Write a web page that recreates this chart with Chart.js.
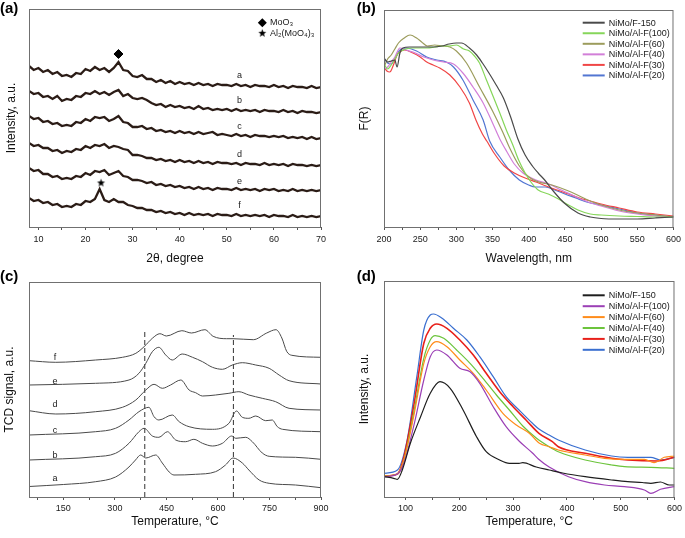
<!DOCTYPE html>
<html>
<head>
<meta charset="utf-8">
<script src="https://cdn.jsdelivr.net/npm/chart.js@4.4.0/dist/chart.umd.min.js"></script>
<style>
  html, body { margin: 0; padding: 0; background: #fff; }
  #wrap { position: relative; width: 685px; height: 538px; }
  canvas { position: absolute; }
</style>
</head>
<body>
<div id="wrap">
  <canvas id="chartA" width="340" height="268" style="left:0;top:0"></canvas>
  <canvas id="chartB" width="345" height="268" style="left:340px;top:0"></canvas>
  <canvas id="chartC" width="340" height="270" style="left:0;top:268px"></canvas>
  <canvas id="chartD" width="345" height="270" style="left:340px;top:268px"></canvas>
</div>
<script>
// (a) XRD, 2θ en grados (unidades arbitrarias)
const xrdAngle = [8,9,10,11,12,13,14,15,16,17,18,19,20,21,22,23,24,25,26,27,28,29,30,31,32,33,34,35,36,37,38,39,40,41,42,43,44,45,46,47,48,49,50,51,52,53,54,55,56,57,58,59,60,61,62,63,64,65,66,67,68,69,70];
const xrdA = [161,157,159,155,157,153,155,151,152,150, 154,153,158,156,160,157,159,155,159,165, 157,156,151,150,152,148,148,145,147,144, 146,143,145,143,144,142,144,142,143,141, 143,142,142,141,143,141,142,140,142,141, 141,140,142,140,141,139,141,140,140,139, 141,139,140];
const xrdB = [136,133,134,130,131,128,131,126,128,127, 131,130,134,133,136,133,135,132,135,137, 131,133,129,128,129,127,124,122,123,120, 122,120,121,119,120,118,121,118,119,117, 118,117,118,116,118,116,117,116,117,115, 117,116,116,115,117,115,116,114,116,115, 115,114,115];
const xrdC = [111,108,109,105,106,103,104,101,102,101, 105,104,108,106,110,109,110,106,108,111, 105,104,100,100,101,98,99,96,97,95, 96,94,96,94,95,93,95,93,94,95, 92,93,92,91,93,91,92,90,92,91, 91,90,91,90,91,89,90,89,90,88, 90,88,89];
const xrdD = [84,81,82,79,79,76,77,74,76,75, 78,77,81,79,82,81,83,79,81,80, 78,77,72,72,71,69,69,67,68,66, 67,65,67,65,66,64,66,64,65,63, 65,64,64,63,64,62,64,63,63,62, 64,62,63,62,63,61,63,62,62,61, 62,61,62];
const xrdE = [59,56,57,53,53,50,51,48,49,48, 51,50,54,52,56,55,57,52,54,56, 51,50,47,47,46,44,45,42,43,41, 42,40,41,39,40,38,40,38,39,37, 39,38,38,37,39,37,38,37,38,36, 38,37,38,36,37,36,38,36,37,36, 37,36,37];
const xrdF = [29,26,27,24,25,22,23,20,21,20, 23,22,26,25,28,38,27,25,28,25, 25,22,21,19,19,17,17,15,16,14, 15,13,14,12,14,12,13,12,13,11, 13,12,12,11,13,11,12,11,12,11, 12,10,12,11,11,10,12,10,11,10, 11,10,11];
const xrdLabels = ['a','b','c','d','e','f'];
const xrdLabelX = 52.7;
const xrdLabelY = [151.7,126.7,100,72.7,45.7,21];
const moo3X = [27], moo3Y = [173];
const almoX = [23.3], almoY = [44];
const aTicks = [10,15,20,25,30,35,40,45,50,55,60,65,70];

// (b) UV-vis DRS
const bNames = ['NiMo/F-150','NiMo/Al-F(100)','NiMo/Al-F(60)','NiMo/Al-F(40)','NiMo/Al-F(30)','NiMo/Al-F(20)'];
const bColors = ['#4a4a4a','#86d65a','#9c9c5c','#d27fd8','#f04646','#5276d2'];
const nmF150 = [200,205,210,215,218,222,226,235,245,255,268,280,290,300,307,318,328,336,345,355,365,375,385,395,405,413,422,435,449,468,485,500,525,550,575,600];
const frF150 = [169,165,166,167,160,174,179,180,180,180,180,181,183,184,184,179,172,164,154,142,129,110,88,72,61,54,47,35,24,14,10,8.5,8,8,9,10];
const nm100 = [200,205,210,215,220,230,240,250,260,270,280,290,300,310,318,325,332,341,350,360,369,378,386,395,404,413,427,441,455,468,485,500,525,550,575,600];
const fr100 = [163,158,162,168,174,178,179,179,179,180,181,181,182,178,176,171,164,148,132,114,97,82,67,54,44,37,33,28,22,17,13,12,11,10.5,10,10];
const nm60 = [200,205,210,215,220,228,236,245,252,260,270,280,291,300,314,332,350,364,373,387,400,414,432,455,470,485,500,525,550,575,600];
const fr60 = [160,168,172,178,184,189,192,189,185,181,182,181,180,176,164,140,116,95,80,61,50,45,42,36,31,26,22,17,14,12,10];
const nm40 = [200,205,210,215,222,230,240,255,268,282,296,309,323,337,350,360,370,380,392,410,428,445,460,475,490,500,525,550,575,600];
const fr40 = [158,160,165,170,179,177,175,170,167,165,163,154,140,124,104,88,75,63,54,47,43,37,32,27,23,21,16,13,11,10];
const nm30 = [200,204,208,213,218,222,228,240,250,259,268,277,291,305,318,327,336,342,352,366,380,395,410,424,439,455,470,485,500,525,550,575,600];
const fr30 = [160,156,155,162,172,175,177,174,170,165,162,159,152,140,124,107,93,86,74,61,54,49,45,41,37,33,29,26,23,19,15,13,11];
const nm20 = [200,205,210,215,222,231,245,259,273,286,296,309,323,337,346,360,373,387,400,409,423,436,450,465,480,500,525,550,575,600];
const fr20 = [169,164,163,168,177,179,176,170,167,165,160,147,127,107,86,70,57,47,42,40,40,37,33,29,25,22,18,14,12,10];
const bTicks = [200,225,250,275,300,325,350,375,400,425,450,475,500,525,550,575,600];

// (c) H2-TPR
const tA = [50,150,244,302,341,360,375,390,419,438,458,472,535,593,622,644,671,690,720,749,826,900];
const tcdA = [10.5,12.5,15.3,20,30,37,42,39,42,34,25,22,22.7,25.3,32,39,34,27,17,13.7,12,9.3];
const tB = [50,244,302,341,370,385,409,428,453,477,506,530,555,584,613,640,652,681,700,729,749,826,900];
const tcdB = [37,40.3,43.7,53.7,65.3,68.7,61,59.7,65.3,57,55.3,57.7,53.7,51,53.7,61,58.7,59.7,55.3,44,40.7,39.7,37.7];
const tC = [50,244,302,341,370,399,414,428,467,487,516,584,632,654,671,690,710,739,758,773,788,900];
const tcdC = [62,65.3,68.7,77,85.3,89.7,80.3,77,82,75.3,70.3,67.7,73.7,86,79.7,78.7,81,76.3,77,70.3,67.7,65.3];
const tD = [50,128,244,322,361,390,414,438,462,492,516,535,555,593,632,661,690,729,768,807,900];
const tcdD = [86.3,83,85.3,89.7,97,107,112.7,108.7,112,117,107,104.3,101,102,103.7,105.3,102,98.7,95.3,88.7,87];
const tE = [50,244,341,370,390,409,428,448,467,496,526,555,584,613,642,671,710,749,778,807,900];
const tcdE = [112,113.7,117,123.7,133.7,145.3,149.7,142,137,143,139.7,135.3,129.7,127.7,132,134.3,132,128.7,122,116.3,113];
const tF = [50,128,244,322,361,385,409,431,450,495,523,562,586,625,644,703,742,769,786,800,815,900];
const tcdF = [136.3,134.7,137,139.7,143.7,150.3,158.7,163.3,161,166.3,164,167.3,160.7,158.3,158.3,157.3,164,167.3,159,145.7,141.7,139.7];
const cLabels = ['a','b','c','d','e','f'];
const cLabelX = 126;
const cLabelY = [18.3,41.7,66.7,92.3,115.7,139.7];
const cDashT = [387,645];
const cDashTop = [167,162];
const cTicks = [75,150,225,300,375,450,525,600,675,750,825,900];

// (d) NH3-TPD
const dNames = ['NiMo/F-150','NiMo/Al-F(100)','NiMo/Al-F(60)','NiMo/Al-F(40)','NiMo/Al-F(30)','NiMo/Al-F(20)'];
const dColors = ['#1e1e1e','#9b3fb5','#ff8c1a','#6cc43c','#e8201a','#3a6fd0'];
const dT150 = [60,78,85,94,109,128,146,164,183,207,232,250,275,293,311,318,343,367,392,434,483,513,540,556,574,590,600];
const dI150 = [20.3,18.7,17.7,27,53.7,80.3,103.7,115.3,108.7,87,60.3,45.3,37,33.7,33.7,34.3,30,27,24,20.3,17,15.3,14.5,13.7,15,12,12];
const dT100 = [60,85,97,115,134,146,158,177,201,220,238,263,287,311,336,347,367,403,434,470,507,544,556,574,600];
const dI100 = [20.3,23,33.7,70.3,117,140.3,147,142,128.7,125.3,113.7,90.3,70.3,56,44,38,30,20.3,15.3,12,10.3,7,3.7,7.7,10.3];
const dT60 = [60,85,97,115,134,146,158,177,201,226,250,281,306,330,349,367,384,434,470,507,544,562,581,600];
const dI60 = [21,23,37,80,133.7,150.3,155.3,150.3,137,123.7,107,83.7,72,63.7,53.7,50.3,47,42,38.7,37.7,37.7,34.3,39.7,41];
const dT40 = [60,85,97,115,134,146,155,171,195,220,244,269,293,318,343,367,384,434,483,507,556,600];
const dI40 = [21,23,37,83.7,138.7,157,161.3,158.7,147,133.7,118.7,102,87,71,59,50.3,45.3,37,32,30.3,29.7,28.7];
const dT30 = [60,85,97,115,134,146,158,177,201,226,250,275,300,324,348,373,384,434,483,513,569,600];
const dI30 = [21,23,40,90.3,153.7,168.7,173,168.7,157,142,123.7,105.3,90.3,77,63.7,55.3,50.3,43.7,38.7,37,36,39.7];
const dT20 = [60,85,103,121,134,146,152,168,189,214,238,263,287,311,336,348,367,384,434,483,513,556,574,600];
const dI20 = [23.7,27,57,120.3,167,182,183,178.7,168.7,157,140.3,120.3,100.3,87,73.7,68,62,57,47,41,39.7,39.7,37,39.7];
const dTicks = [100,150,200,250,300,350,400,450,500,550,600];

const FONT = 'Arial, "Liberation Sans", sans-serif';
Chart.defaults.font.family = FONT;
Chart.defaults.color = '#1a1a1a';
Chart.defaults.animation = false;

const pts = (xs, ys) => xs.map((x, i) => ({ x: x, y: ys[i] }));

function estrella(r) {
  const c = document.createElement('canvas');
  const s = Math.ceil(r * 2) + 2;
  c.width = c.height = s;
  const g = c.getContext('2d');
  g.fillStyle = '#000';
  g.beginPath();
  for (let k = 0; k < 10; k++) {
    const rr = k % 2 ? r * 0.42 : r;
    const ang = -Math.PI / 2 + k * Math.PI / 5;
    g.lineTo(s / 2 + rr * Math.cos(ang), s / 2 + rr * Math.sin(ang));
  }
  g.closePath();
  g.fill();
  return c;
}
const starImg = estrella(4.2);

// marco, letra del panel, etiquetas y leyenda
const decoPlugin = {
  id: 'deco',
  afterDatasetsDraw(chart, args, o) {
    const { ctx, chartArea: a, scales } = chart;
    ctx.save();
    ctx.strokeStyle = '#707070';
    ctx.lineWidth = 1;
    ctx.strokeRect(a.left + 0.5, a.top + 0.5, a.right - a.left - 1, a.bottom - a.top);
    ctx.fillStyle = '#000';
    ctx.textBaseline = 'middle';
    ctx.textAlign = 'left';
    ctx.font = 'bold 15px ' + FONT;
    ctx.fillText(o.panel, o.panelX, 9);

    if (o.labels) {
      ctx.font = '9px ' + FONT;
      ctx.textAlign = 'center';
      ctx.fillStyle = '#222';
      for (let i = 0; i < o.labels.length; i++) {
        ctx.fillText(o.labels[i], scales.x.getPixelForValue(o.labelX), scales.y.getPixelForValue(o.labelY[i]));
      }
    }

    if (o.legend) {
      ctx.font = '9px ' + FONT;
      ctx.textAlign = 'left';
      const sets = chart.data.datasets.filter(d => d.enLeyenda);
      sets.forEach((d, i) => {
        const yy = o.legY + i * o.legH;
        ctx.strokeStyle = d.borderColor;
        ctx.lineWidth = 2;
        ctx.beginPath();
        ctx.moveTo(o.legX, yy);
        ctx.lineTo(o.legX + 22, yy);
        ctx.stroke();
        ctx.fillStyle = '#1a1a1a';
        ctx.fillText(d.label, o.legX + 26, yy + 0.5);
      });
    }

    if (o.xrdLegend) {
      const lx = 262.3;
      ctx.fillStyle = '#000';
      ctx.beginPath();
      ctx.moveTo(lx, 22.7 - 4.5); ctx.lineTo(lx + 4.5, 22.7); ctx.lineTo(lx, 22.7 + 4.5); ctx.lineTo(lx - 4.5, 22.7);
      ctx.closePath(); ctx.fill();
      ctx.drawImage(starImg, lx - starImg.width / 2, 33.3 - starImg.height / 2);
      ctx.font = '9px ' + FONT;
      ctx.textAlign = 'left';
      ctx.fillStyle = '#1a1a1a';
      ctx.fillText('MoO\u2083', 270, 23);
      ctx.fillText('Al\u2082(MoO\u2084)\u2083', 270, 34);
    }
    ctx.restore();
  }
};

function escalas(p) {
  return {
    x: {
      type: 'linear', min: p.xMin, max: p.xMax,
      afterBuildTicks: s => { s.ticks = p.ticks.map(v => ({ value: v })); },
      afterFit: s => { s.height = 41; },
      ticks: {
        autoSkip: false, maxRotation: 0, padding: p.tickPad, font: { size: 9 }, color: '#1a1a1a',
        callback: v => (v % p.labelStep === 0 ? String(v) : '')
      },
      grid: { drawOnChartArea: false, drawTicks: true, tickLength: 3, color: '#555' },
      border: { display: false },
      title: { display: true, text: p.xTitle, font: { size: 12 }, color: '#111', padding: { top: 0, bottom: p.xTitlePad } }
    },
    y: {
      min: 0, max: p.yMax,
      afterFit: s => { s.width = p.yWidth; },
      ticks: { display: false },
      grid: { display: false },
      border: { display: false },
      title: { display: true, text: p.yTitle, font: { size: 12 }, color: '#111', padding: { top: p.yTitlePad, bottom: 0 } }
    }
  };
}

const baseOpts = { responsive: false, events: [], plugins: { legend: { display: false }, tooltip: { enabled: false } } };

// (a)
const xrdSeries = [xrdA, xrdB, xrdC, xrdD, xrdE, xrdF];
new Chart(document.getElementById('chartA'), {
  type: 'line',
  data: {
    datasets: xrdSeries.map(s => ({
      data: pts(xrdAngle, s), borderColor: '#2b1c16', borderWidth: 2.3, pointRadius: 0, tension: 0
    })).concat([
      { type: 'scatter', data: pts(moo3X, moo3Y), pointStyle: 'rectRot', pointRadius: 4.5, backgroundColor: '#000', borderColor: '#000' },
      { type: 'scatter', data: pts(almoX, almoY), pointStyle: starImg, pointRadius: 4.2 }
    ])
  },
  options: Object.assign({}, baseOpts, {
    layout: { padding: { top: 9, right: 19, left: 0, bottom: 0 } },
    scales: escalas({ xMin: 8, xMax: 70, ticks: aTicks, labelStep: 10, tickPad: 4, xTitle: '2\u03b8, degree', xTitlePad: 2.5,
      yMax: 218, yWidth: 29, yTitle: 'Intensity, a.u.', yTitlePad: 4.5 }),
    plugins: Object.assign({}, baseOpts.plugins, {
      deco: { panel: '(a)', panelX: 0, labels: xrdLabels, labelX: xrdLabelX, labelY: xrdLabelY, xrdLegend: true }
    })
  }),
  plugins: [decoPlugin]
});

// (b)
const bX = [nmF150, nm100, nm60, nm40, nm30, nm20];
const bY = [frF150, fr100, fr60, fr40, fr30, fr20];
new Chart(document.getElementById('chartB'), {
  type: 'line',
  data: {
    datasets: bNames.map((n, i) => ({
      label: n, enLeyenda: true, data: pts(bX[i], bY[i]), borderColor: bColors[i], borderWidth: 1.2,
      pointRadius: 0, cubicInterpolationMode: 'monotone'
    }))
  },
  options: Object.assign({}, baseOpts, {
    layout: { padding: { top: 10, right: 8, left: 0, bottom: 0 } },
    scales: escalas({ xMin: 200, xMax: 600, ticks: bTicks, labelStep: 50, tickPad: 4, xTitle: 'Wavelength, nm', xTitlePad: 2.5,
      yMax: 217, yWidth: 44, yTitle: 'F(R)', yTitlePad: 17.8 }),
    plugins: Object.assign({}, baseOpts.plugins, {
      deco: { panel: '(b)', panelX: 16.7, legend: true, legX: 242.7, legY: 22.7, legH: 10.55 }
    })
  }),
  plugins: [decoPlugin]
});

// (c)
const cX = [tA, tB, tC, tD, tE, tF];
const cY = [tcdA, tcdB, tcdC, tcdD, tcdE, tcdF];
new Chart(document.getElementById('chartC'), {
  type: 'line',
  data: {
    datasets: cX.map((xs, i) => ({
      data: pts(xs, cY[i]), borderColor: '#4a4a4a', borderWidth: 1, pointRadius: 0, cubicInterpolationMode: 'monotone'
    })).concat(cDashT.map((t, i) => ({
      data: pts([t, t], [0, cDashTop[i]]), borderColor: '#333', borderWidth: 1, borderDash: [5, 3], pointRadius: 0
    })))
  },
  options: Object.assign({}, baseOpts, {
    layout: { padding: { top: 14, right: 19, left: 0, bottom: 0 } },
    scales: escalas({ xMin: 50, xMax: 900, ticks: cTicks, labelStep: 150, tickPad: 3, xTitle: 'Temperature, \u00b0C', xTitlePad: 9.5,
      yMax: 215, yWidth: 29, yTitle: 'TCD signal, a.u.', yTitlePad: 2.8 }),
    plugins: Object.assign({}, baseOpts.plugins, {
      deco: { panel: '(c)', panelX: 0, labels: cLabels, labelX: cLabelX, labelY: cLabelY }
    })
  }),
  plugins: [decoPlugin]
});

// (d)
const dX = [dT150, dT100, dT60, dT40, dT30, dT20];
const dY = [dI150, dI100, dI60, dI40, dI30, dI20];
new Chart(document.getElementById('chartD'), {
  type: 'line',
  data: {
    datasets: dNames.map((n, i) => ({
      label: n, enLeyenda: true, data: pts(dX[i], dY[i]), borderColor: dColors[i], borderWidth: i === 4 ? 1.6 : 1.2,
      pointRadius: 0, cubicInterpolationMode: 'monotone'
    }))
  },
  options: Object.assign({}, baseOpts, {
    layout: { padding: { top: 13, right: 8, left: 0, bottom: 0 } },
    scales: escalas({ xMin: 60, xMax: 600, ticks: dTicks, labelStep: 100, tickPad: 3, xTitle: 'Temperature, \u00b0C', xTitlePad: 9.5,
      yMax: 216, yWidth: 44, yTitle: 'Intensity, a.u.', yTitlePad: 17.8 }),
    plugins: Object.assign({}, baseOpts.plugins, {
      deco: { panel: '(d)', panelX: 16.7, legend: true, legX: 242.7, legY: 27.3, legH: 10.9 }
    })
  }),
  plugins: [decoPlugin]
});
</script>
</body>
</html>
